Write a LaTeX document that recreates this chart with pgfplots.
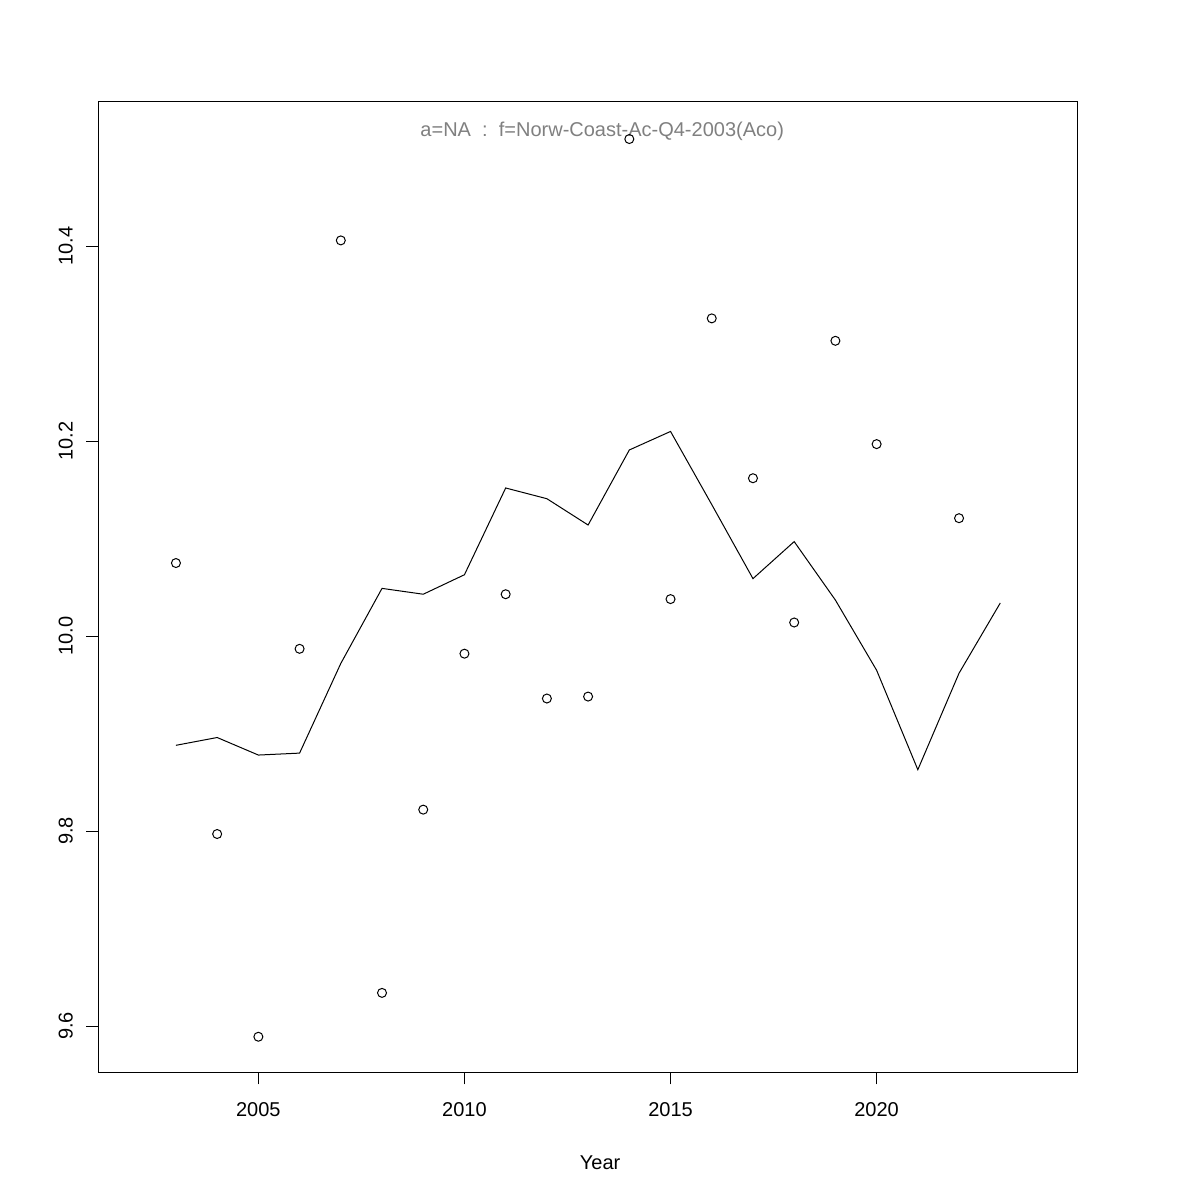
\documentclass[border=0pt]{standalone}
\usepackage{pgfplots}
\pgfplotsset{compat=1.18}
\usepackage{fontspec}
\setmainfont{Liberation Sans}

% 1 px of the 1200 px reference = 0.6 bp
\begin{document}
\begin{tikzpicture}
\useasboundingbox (0,0) rectangle (720bp,720bp);
\begin{axis}[
    at={(59bp,76.6bp)}, anchor=south west,
    scale only axis,
    width=587.4bp, height=582.2bp,
    xmin=2001.117, xmax=2024.87,
    ymin=9.5525, ymax=10.548,
    axis line style={black, line width=0.6bp},
    tick style={black, line width=0.6bp},
    tick align=outside,
    major tick length=7.2bp,
    xtick pos=bottom, ytick pos=left,
    xtick={2005,2010,2015,2020},
    ytick={9.6,9.8,10.0,10.2,10.4},
    font=\fontsize{12bp}{14bp}\selectfont,
    /pgf/number format/assume math mode=true,
    x tick label style={/pgf/number format/set thousands separator={}, yshift=-7.6bp},
    y tick label style={/pgf/number format/fixed, /pgf/number format/fixed zerofill,
        /pgf/number format/precision=1, rotate=90, anchor=south, yshift=4.6bp},
    xlabel={Year},
    xlabel style={at={(axis description cs:0.5126,0)}, anchor=base, yshift=-58.2bp},
]
\addplot[black, line width=0.6bp] table {
2003 9.888
2004 9.896
2005 9.878
2006 9.880
2007 9.972
2008 10.049
2009 10.043
2010 10.063
2011 10.152
2012 10.141
2013 10.114
2014 10.191
2015 10.210
2016 10.135
2017 10.059
2018 10.097
2019 10.037
2020 9.965
2021 9.863
2022 9.962
2023 10.034
};
\addplot[only marks, mark=o, mark size=2.7bp, mark options={black, line width=0.6bp}] table {
2003 10.075
2004 9.797
2005 9.589
2006 9.987
2007 10.406
2008 9.634
2009 9.822
2010 9.982
2011 10.043
2012 9.936
2013 9.938
2014 10.510
2015 10.038
2016 10.326
2017 10.162
2018 10.014
2019 10.303
2020 10.197
2022 10.121
};
\node[anchor=base, text=gray, font=\fontsize{12bp}{14bp}\selectfont]
    at (axis description cs:0.5147,0.964) {a=NA\ \ :\ \ f=Norw-Coast-Ac-Q4-2003(Aco)};
\end{axis}
\end{tikzpicture}
\end{document}
